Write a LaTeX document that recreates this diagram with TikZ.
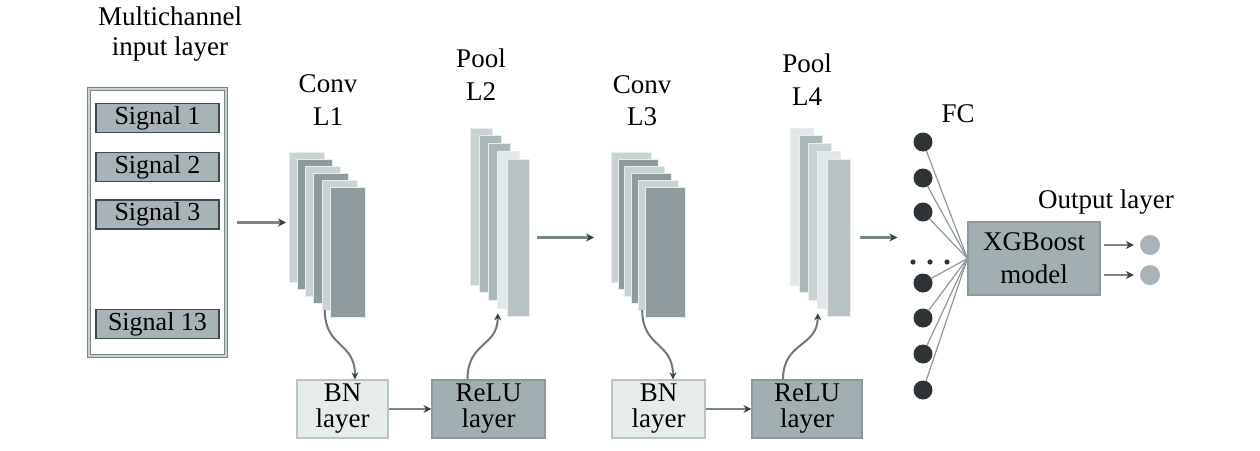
\documentclass[tikz,border=0pt]{standalone}
\usepackage{fontspec}
\setmainfont{Liberation Serif}
\usetikzlibrary{arrows.meta,calc}
\definecolor{framec}{HTML}{76858A}
\definecolor{framel}{HTML}{C9D2D4}
\definecolor{sigf}{HTML}{A7B3B7}
\definecolor{sigb}{HTML}{3E4A4D}
\definecolor{cd}{HTML}{8D9B9E}
\definecolor{cl}{HTML}{C8D2D3}
\definecolor{pv}{HTML}{E2E8E8}
\definecolor{pm}{HTML}{AAB7B9}
\definecolor{pf}{HTML}{B7C3C5}
\definecolor{bnf}{HTML}{E6EBEB}
\definecolor{bnb}{HTML}{BAC4C5}
\definecolor{reluf}{HTML}{A2AFB2}
\definecolor{relub}{HTML}{8C999C}
\definecolor{outc}{HTML}{A9B4B8}
\definecolor{fcc}{HTML}{2E3436}
\definecolor{arrc}{HTML}{7A8789}
\definecolor{tipc}{HTML}{364043}
\definecolor{fcl}{HTML}{8E999C}
\begin{document}
\begin{tikzpicture}[x=1pt,y=-1pt,
  lbl/.style={font=\fontsize{27}{33}\selectfont, inner sep=0pt, anchor=base},
  sig/.style={draw=sigb, fill=sigf, line width=1.5pt, minimum width=123, minimum height=29, inner sep=0pt, font=\fontsize{26}{30}\selectfont},
  sheet/.style={anchor=north west, inner sep=0pt, outer sep=0pt, draw=white!60!cl, line width=0.6pt},
  bnbox/.style={draw=bnb, fill=bnf, line width=1.2pt, minimum height=58, inner sep=0pt, align=center, font=\fontsize{27}{26}\selectfont},
  relubox/.style={draw=relub, fill=reluf, line width=1.2pt, minimum height=58, inner sep=0pt, align=center, font=\fontsize{27}{26}\selectfont},
  arr/.style={draw=arrc, line width=2.6pt, -{Stealth[length=8pt,width=8pt,color=tipc]}},
  carr/.style={draw=arrc!90!black, line width=2pt, -{Stealth[length=7pt,width=7pt,color=tipc]}},
  fcline/.style={draw=fcl, line width=1.2pt},
  fcn/.style={circle, fill=fcc, minimum size=19, inner sep=0pt},
  outn/.style={circle, fill=outc, minimum size=20, inner sep=0pt}]
\useasboundingbox (0,0) rectangle (1260,450);

% input layer
\node[lbl] (mc1) at (170,25) {Multichannel};
\node[lbl] (mc2) at (170,55) {input layer};
\node[draw=framec, double=framel, double distance=1.2pt, line width=1.4pt, minimum width=137, minimum height=267, inner sep=0pt] (inp) at (157.5,222.5) {};
\node[sig] (s1) at (157.5,118) {Signal 1};
\node[sig] (s2) at (157.5,167) {Signal 2};
\node[sig] (s3) at (157.5,214.5) {Signal 3};
\node[sig] (s13) at (157.5,324) {Signal 13};

% Conv L1
\node[lbl] (cv1a) at (328,92) {Conv};
\node[lbl] (cv1b) at (328,125) {L1};
\foreach \i/\c in {0/cl,1/cd,2/cl,3/cd,4/cl,5/cd}
  \node[sheet, fill=\c, minimum width=35, minimum height=130] (c1s\i) at (289+\i*8.2,152+\i*7) {};

% Pool L2
\node[lbl] (pl2a) at (481,67) {Pool};
\node[lbl] (pl2b) at (481,100) {L2};
\foreach \i/\c in {0/cl,1/pm,2/pm,3/pv,4/pf}
  \node[sheet, fill=\c, minimum width=22, minimum height=157] (p1s\i) at (470+\i*9.25,128+\i*7.75) {};

% Conv L3
\node[lbl] (cv3a) at (642,93) {Conv};
\node[lbl] (cv3b) at (642,125) {L3};
\foreach \i/\c in {0/cl,1/cd,2/cl,3/cd,4/cl,5/cd}
  \node[sheet, fill=\c, minimum width=40, minimum height=130] (c3s\i) at (611+\i*6.8,152+\i*7) {};

% Pool L4
\node[lbl] (pl4a) at (807,72) {Pool};
\node[lbl] (pl4b) at (807,105) {L4};
\foreach \i/\c in {0/pv,1/pm,2/cl,3/pv,4/pf}
  \node[sheet, fill=\c, minimum width=23, minimum height=157] (p2s\i) at (790+\i*9.25,128+\i*7.75) {};

% bottom boxes
\node[bnbox, minimum width=91] (bn1) at (342.5,409) {BN\\layer};
\node[relubox, minimum width=113] (relu1) at (488.5,409) {ReLU\\layer};
\node[bnbox, minimum width=93] (bn2) at (658.5,409) {BN\\layer};
\node[relubox, minimum width=110] (relu2) at (807,409) {ReLU\\layer};

% FC
\node[lbl] (fc) at (958,122) {FC};
\foreach \i/\y in {1/142,2/178,3/212,4/283,5/318,6/354,7/390}
  \node[fcn] (f\i) at (923,\y) {};
\fill[fcc] (913,262) circle (2.6) (930,262) circle (2.6) (947,262) circle (2.6);

% XGBoost and outputs
\node[draw=relub, fill=reluf, line width=1.2pt, minimum width=132, minimum height=73, inner sep=0pt, align=center, font=\fontsize{27}{33}\selectfont] (xgb) at (1034,258.5) {XGBoost\\model};
\node[lbl] (outl) at (1106,208) {Output layer};
\node[outn] (o1) at (1150,245) {};
\node[outn] (o2) at (1150,275) {};

\foreach \i in {1,...,7}
  \draw[fcline] (f\i) -- (xgb.west);

% connectors
\draw[arr, shorten <=10pt, shorten >=3pt] (inp.east) -- (inp.east -| c1s0.west);
\draw[arr, shorten <=8pt, shorten >=17pt] (p1s4.east) -- (p1s4.east -| c3s0.west);
\draw[arr, shorten <=10pt, shorten >=16pt] (p2s4.east) -- (p2s4.east -| f4.west);
\draw[arr] (bn1.east) -- (relu1.west);
\draw[arr] (bn2.east) -- (relu2.west);
\draw[arr, shorten <=3pt, shorten >=6pt] (xgb.east |- o1) -- (o1);
\draw[arr, shorten <=3pt, shorten >=6pt] (xgb.east |- o2) -- (o2);

\draw[carr] ([xshift=3pt]c1s4.south west) .. controls +(0,38) and +(0,-38) .. ([xshift=12.5pt]bn1.north);
\draw[carr] ([xshift=-21pt]relu1.north) .. controls +(0,-38) and +(0,34) .. ([yshift=-5pt]p1s3.south west);
\draw[carr] ([xshift=4pt]c3s4.south west) .. controls +(0,38) and +(0,-38) .. ([xshift=14.5pt]bn2.north);
\draw[carr] ([xshift=-24pt]relu2.north) .. controls +(0,-38) and +(0,34) .. ([yshift=-5pt]p2s3.south west);
\end{tikzpicture}
\end{document}
